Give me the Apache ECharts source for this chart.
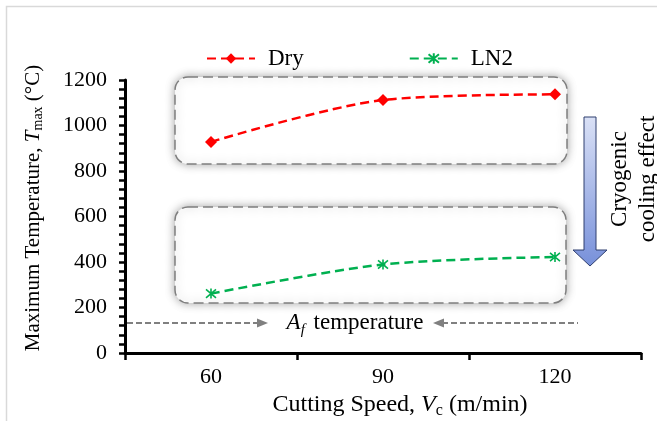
<!DOCTYPE html>
<html><head><meta charset="utf-8">
<script src="https://cdn.jsdelivr.net/npm/echarts@6/dist/echarts.min.js"></script>
<style>html,body{margin:0;padding:0;background:#fff}#c{width:657px;height:421px}</style>
</head><body><div id="c"></div>
<script>
// ---- data ----
const categories = ['60', '90', '120'];
const dryValues = [928, 1112, 1137];
const ln2Values = [261, 389, 422];
const seriesNames = ['Dry', 'LN2'];
const yMin = 0, yMax = 1200, yInterval = 200;

const FF = 'Liberation Serif';
const chart = echarts.init(document.getElementById('c'), null, {renderer: 'canvas'});

const asterisk = 'path://M0,0L10,10M10,0L0,10M5,-1L5,11';

const boxStyle = {
  fill: '#fff', stroke: '#7f7f7f', lineWidth: 1.5, lineDash: [10, 5],
  shadowBlur: 10, shadowColor: 'rgba(0,0,0,0.35)', shadowOffsetX: 0, shadowOffsetY: 0
};
const dashGray = {stroke: '#808080', lineWidth: 2, lineDash: [6, 3]};
const serifRich = (size) => ({t: {fontFamily: FF, fontSize: size, color: '#000'}});

chart.setOption({
  animation: false,
  backgroundColor: '#fff',
  textStyle: {fontFamily: FF},
  grid: {left: 125, right: 16, top: 80, bottom: 68},
  legend: {
    left: 201, top: 42, itemWidth: 48, itemHeight: 13, itemGap: 105,
    data: seriesNames,
    formatter: n => '{t|' + n + '}',
    textStyle: {fontFamily: FF, fontSize: 23, color: '#000', padding: [0, 0, 0, 8], rich: serifRich(23)}
  },
  xAxis: {
    type: 'category', data: categories, boundaryGap: true,
    axisLine: {lineStyle: {color: '#000', width: 3}},
    axisTick: {show: true, alignWithLabel: false, length: 7, lineStyle: {color: '#000', width: 2.5}},
    axisLabel: {fontFamily: FF, fontSize: 22, color: '#000', margin: 13,
      formatter: v => '{t|' + v + '}', rich: serifRich(22)},
    splitLine: {show: false}
  },
  yAxis: {
    type: 'value', min: yMin, max: yMax, interval: yInterval,
    axisLine: {show: true, lineStyle: {color: '#000', width: 3}},
    axisTick: {show: true, length: 6, lineStyle: {color: '#000', width: 2.5}},
    minorTick: {show: true, splitNumber: 5, length: 6, lineStyle: {color: '#000', width: 2.5}},
    axisLabel: {fontFamily: FF, fontSize: 22, color: '#000', margin: 18,
      formatter: v => '{t|' + String(v) + '}', rich: serifRich(22)},
    splitLine: {show: false}
  },
  series: [
    {
      name: seriesNames[0], type: 'line', data: dryValues, smooth: 0.3, z: 5,
      symbol: 'diamond', symbolSize: [12, 12],
      lineStyle: {color: '#ff0000', width: 2.5, type: [9, 5]},
      itemStyle: {color: '#ff0000'}
    },
    {
      name: seriesNames[1], type: 'line', data: ln2Values, smooth: 0.3, z: 5,
      symbol: asterisk, symbolSize: 10,
      lineStyle: {color: '#00b050', width: 2.5, type: [9, 5]},
      itemStyle: {color: '#00b050', borderColor: '#00b050', borderWidth: 1.6}
    }
  ],
  graphic: [
    {type: 'polyline', silent: true, z: 0, shape: {points: [[6.5, 421], [6.5, 6.5], [657, 6.5]]},
      style: {stroke: '#d9d9d9', lineWidth: 1.5, fill: null}},
    {type: 'rect', z: 1, shape: {x: 175, y: 77, width: 392, height: 87, r: 13}, style: boxStyle},
    {type: 'rect', z: 1, shape: {x: 175, y: 207, width: 391, height: 96, r: 13}, style: boxStyle},
    {type: 'line', z: 3, shape: {x1: 127, y1: 323, x2: 259, y2: 323}, style: dashGray},
    {type: 'polygon', z: 3, shape: {points: [[257, 318.5], [268, 323], [257, 327.5]]}, style: {fill: '#808080'}},
    {type: 'line', z: 3, shape: {x1: 442, y1: 323, x2: 578, y2: 323}, style: dashGray},
    {type: 'polygon', z: 3, shape: {points: [[444, 318.5], [433, 323], [444, 327.5]]}, style: {fill: '#808080'}},
    {type: 'text', z: 3, x: 355, y: 323, style: {
      text: '{i|A}{s|f} temperature', align: 'center', verticalAlign: 'middle',
      fontFamily: FF, fontSize: 23, fill: '#000',
      rich: {i: {fontFamily: FF, fontSize: 23, fontStyle: 'italic'},
             s: {fontFamily: FF, fontSize: 15, fontStyle: 'italic', padding: [14, 3, 0, 0]}}
    }},
    {type: 'polygon', z: 3, shape: {points: [[584, 117], [596, 117], [596, 250], [607, 250], [590, 266], [573, 250], [584, 250]]},
      style: {stroke: '#2f3f6f', lineWidth: 1,
        fill: new echarts.graphic.LinearGradient(0, 0, 0, 1, [{offset: 0, color: '#dae1f6'}, {offset: 1, color: '#7790da'}])}},
    {type: 'text', z: 3, x: 634, y: 179, rotation: Math.PI / 2, style: {
      text: 'Cryogenic\ncooling effect', align: 'center', verticalAlign: 'middle',
      fontFamily: FF, fontSize: 23, lineHeight: 28, fill: '#000'
    }},
    {type: 'text', z: 3, x: 33, y: 208, rotation: Math.PI / 2, style: {
      text: 'Maximum Temperature, {i|T}{s|max} (°C)', align: 'center', verticalAlign: 'middle',
      fontFamily: FF, fontSize: 21, fill: '#000',
      rich: {i: {fontFamily: FF, fontSize: 21, fontStyle: 'italic'},
             s: {fontFamily: FF, fontSize: 14, padding: [11, 0, 0, 0]}}
    }},
    {type: 'text', z: 3, x: 400, y: 405, style: {
      text: 'Cutting Speed, {i|V}{s|c} (m/min)', align: 'center', verticalAlign: 'middle',
      fontFamily: FF, fontSize: 24, fill: '#000',
      rich: {i: {fontFamily: FF, fontSize: 24, fontStyle: 'italic'},
             s: {fontFamily: FF, fontSize: 16, padding: [12, 0, 0, 0]}}
    }}
  ]
});
</script></body></html>
